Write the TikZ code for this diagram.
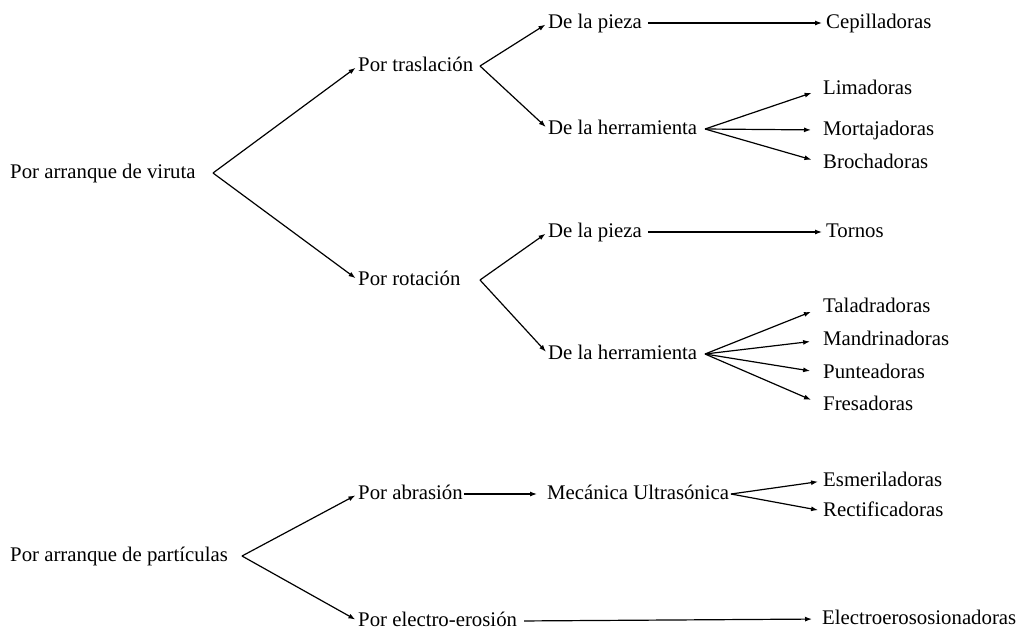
\documentclass[tikz,border=0pt]{standalone}
\usepackage{fontspec}
\setmainfont{Liberation Serif}
\usetikzlibrary{arrows.meta}
\begin{document}
\begin{tikzpicture}[x=1pt,y=-1pt,
  lbl/.style={anchor=west,inner sep=0pt,font=\fontsize{20.8}{25}\selectfont,text height=14pt,text depth=4pt},
  conn/.style={line width=1.2pt,-{Latex[length=7pt,width=5pt]}},
  gap/.style={shorten >=#1}
]
\fill[white] (0,0) rectangle (1020,630);
\useasboundingbox (0,0) rectangle (1020,630);

% nodes
\node[lbl] (v)   at (10,173)  {Por arranque de viruta};
\node[lbl] (tr)  at (358,66)  {Por traslación};
\node[lbl] (p1)  at (548,23)  {De la pieza};
\node[lbl] (h1)  at (548,129) {De la herramienta};
\node[lbl] (cep) at (826,23)  {Cepilladoras};
\node[lbl] (lim) at (823,89)  {Limadoras};
\node[lbl] (mor) at (823,130) {Mortajadoras};
\node[lbl] (bro) at (823,163) {Brochadoras};
\node[lbl] (rot) at (358,280) {Por rotación};
\node[lbl] (p2)  at (548,232) {De la pieza};
\node[lbl] (h2)  at (548,354) {De la herramienta};
\node[lbl] (tor) at (826,232) {Tornos};
\node[lbl] (tal) at (823,307) {Taladradoras};
\node[lbl] (man) at (823,340) {Mandrinadoras};
\node[lbl] (pun) at (823,373) {Punteadoras};
\node[lbl] (fre) at (823,405) {Fresadoras};
\node[lbl] (pa)  at (10,556)  {Por arranque de partículas};
\node[lbl] (ab)  at (358,494) {Por abrasión};
\node[lbl] (mec) at (547,494) {Mecánica Ultrasónica};
\node[lbl] (esm) at (823,481) {Esmeriladoras};
\node[lbl] (rec) at (823,511) {Rectificadoras};
\node[lbl] (ee)  at (358,621) {Por electro-erosión};
\node[lbl] (ele) at (822,619) {Electroerososionadoras};

% fan origins
\coordinate (vo)  at (213,173);
\coordinate (tro) at (480,66);
\coordinate (h1o) at (705,129);
\coordinate (roto) at (480,280);
\coordinate (h2o) at (705,354);
\coordinate (pao) at (242,556);
\coordinate (meco) at (731,494);

% connectors
\draw[conn,gap=3pt] (vo) -- (tr.west);
\draw[conn,gap=3pt] (vo) -- (rot.west);
\draw[conn,gap=3pt] (tro) -- (p1.west);
\draw[conn,gap=3pt] (tro) -- (h1.west);
\draw[conn,gap=4pt,shorten <=6pt] (p1.east) -- (cep.west);
\draw[conn,gap=12pt] (h1o) -- (lim.west);
\draw[conn,gap=12pt] (h1o) -- (mor.west);
\draw[conn,gap=12pt] (h1o) -- (bro.west);
\draw[conn,gap=3pt] (roto) -- (p2.west);
\draw[conn,gap=3pt] (roto) -- (h2.west);
\draw[conn,gap=4pt,shorten <=6pt] (p2.east) -- (tor.west);
\draw[conn,gap=13pt] (h2o) -- (tal.west);
\draw[conn,gap=13pt] (h2o) -- (man.west);
\draw[conn,gap=13pt] (h2o) -- (pun.west);
\draw[conn,gap=13pt] (h2o) -- (fre.west);
\draw[conn,gap=3pt] (pao) -- (ab.west);
\draw[conn,gap=3pt] (pao) -- (ee.west);
\draw[conn,gap=10pt,shorten <=1pt] (ab.east) -- (mec.west);
\draw[conn,gap=5pt] (meco) -- (esm.west);
\draw[conn,gap=5pt] (meco) -- (rec.west);
\draw[conn,gap=10pt,shorten <=7pt] (ee.east) -- (ele.west);
\end{tikzpicture}
\end{document}
